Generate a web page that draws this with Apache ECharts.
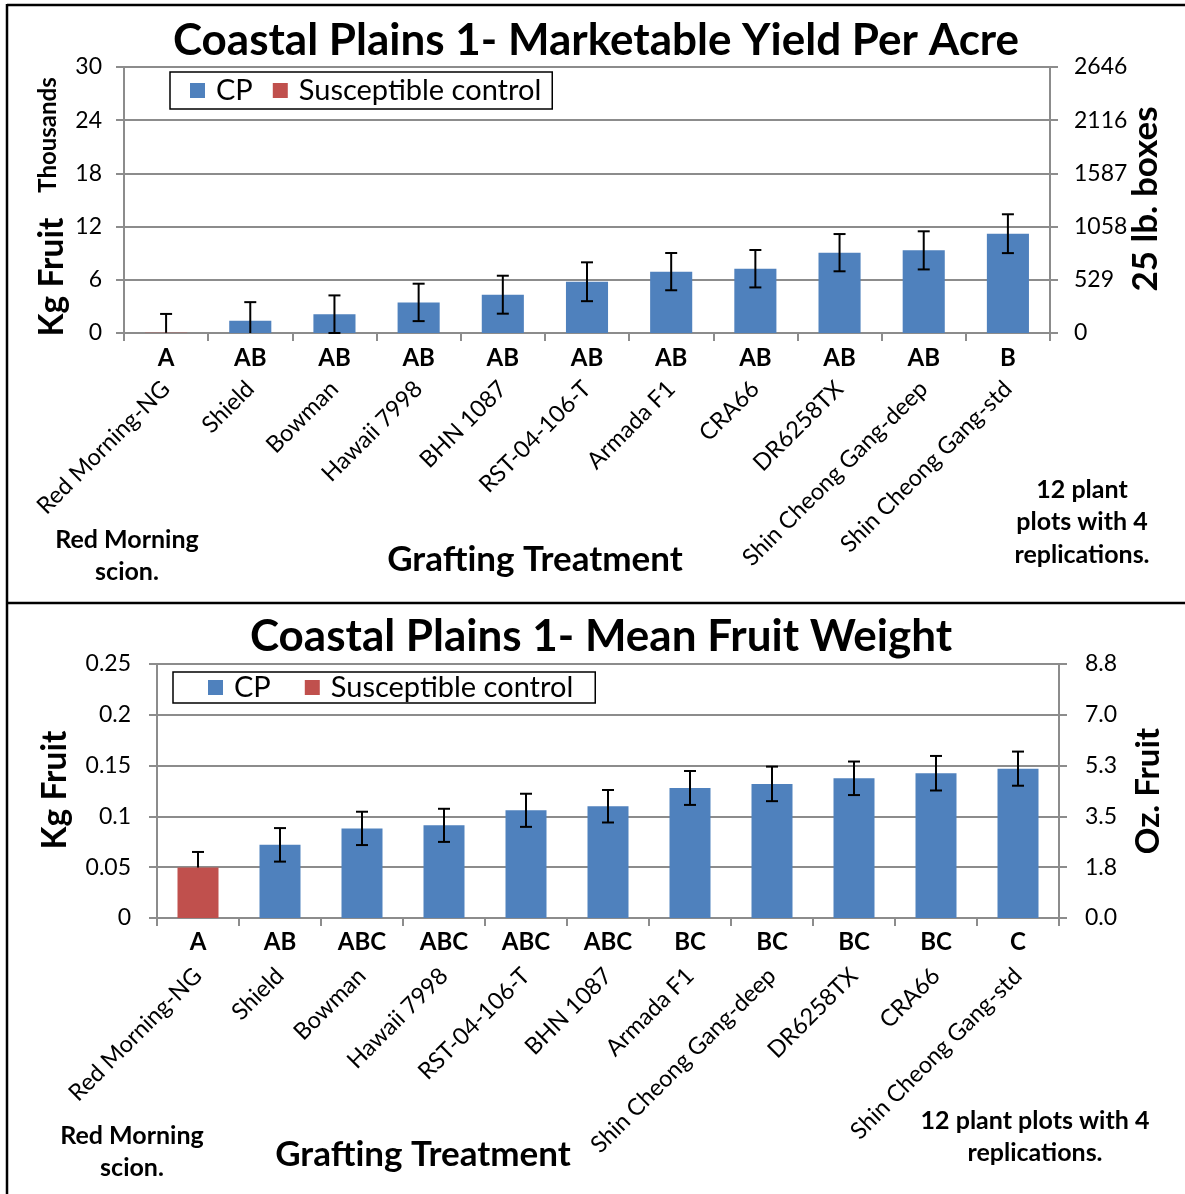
<!DOCTYPE html>
<html>
<head>
<meta charset="utf-8">
<script src="https://cdn.jsdelivr.net/npm/echarts@6/dist/echarts.min.js"></script>
<style>
  html, body { margin: 0; padding: 0; background: #fff; }
  #main { width: 1185px; height: 1194px; }
</style>
</head>
<body>
<div id="main"></div>
<script>
  // top chart: marketable yield (thousands kg per acre)
  var yieldNames = ['Red Morning-NG', 'Shield', 'Bowman', 'Hawaii 7998', 'BHN 1087', 'RST-04-106-T',
    'Armada F1', 'CRA66', 'DR6258TX', 'Shin Cheong Gang-deep', 'Shin Cheong Gang-std'];
  var yieldLetters = ['A', 'AB', 'AB', 'AB', 'AB', 'AB', 'AB', 'AB', 'AB', 'AB', 'B'];
  var yieldMeans = [0.03, 1.38, 2.12, 3.45, 4.32, 5.78, 6.92, 7.25, 9.06, 9.32, 11.2];
  var yieldErr = [2.12, 2.1, 2.12, 2.11, 2.14, 2.19, 2.1, 2.11, 2.1, 2.15, 2.19];
  var yieldBoxLabels = ['0', '529', '1058', '1587', '2116', '2646'];

  // bottom chart: mean fruit weight (kg)
  var weightNames = ['Red Morning-NG', 'Shield', 'Bowman', 'Hawaii 7998', 'RST-04-106-T', 'BHN 1087',
    'Armada F1', 'Shin Cheong Gang-deep', 'DR6258TX', 'CRA66', 'Shin Cheong Gang-std'];
  var weightLetters = ['A', 'AB', 'ABC', 'ABC', 'ABC', 'ABC', 'BC', 'BC', 'BC', 'BC', 'C'];
  var weightMeans = [0.0497, 0.072, 0.0882, 0.0912, 0.106, 0.110, 0.128, 0.132, 0.1375, 0.1425, 0.147];
  var weightErr = [0.0153, 0.0165, 0.0164, 0.0163, 0.0163, 0.016, 0.0167, 0.017, 0.0165, 0.017, 0.0168];
  var weightOzLabels = ['0.0', '1.8', '3.5', '5.3', '7.0', '8.8'];

  var controlName = 'Red Morning-NG';
  var BLUE = '#4F81BD';
  var RED = '#C0504D';
  var FONT = 'Lato, "Open Sans", sans-serif';
  var GRID_GRAY = '#8c8c8c';

  // 对照组放在红色系列，其它处理放在蓝色系列
  function pick(names, means, isControl) {
    return means.map(function (v, i) {
      return (names[i] === controlName) === isControl ? v : '-';
    });
  }

  function errData(means, errs) {
    return means.map(function (v, i) { return [i, v, errs[i]]; });
  }

  // error bar drawn as I-beam, lower part clipped at 0
  function renderErr(params, api) {
    var i = api.value(0), v = api.value(1), e = api.value(2);
    var hiV = v + e, loV = Math.max(0, v - e);
    var hi = api.coord([i, hiV]);
    var lo = api.coord([i, loV]);
    var w = 6;
    var style = { stroke: '#000', lineWidth: 2 };
    var children = [
      { type: 'line', shape: { x1: hi[0], y1: hi[1], x2: lo[0], y2: lo[1] }, style: style },
      { type: 'line', shape: { x1: hi[0] - w, y1: hi[1], x2: hi[0] + w, y2: hi[1] }, style: style }
    ];
    if (v - e >= 0) {
      children.push({ type: 'line', shape: { x1: lo[0] - w, y1: lo[1], x2: lo[0] + w, y2: lo[1] }, style: style });
    }
    return { type: 'group', children: children };
  }

  function letterAxis(grid, data, margin) {
    return {
      type: 'category', gridIndex: grid, data: data, position: 'bottom',
      axisLine: { lineStyle: { color: GRID_GRAY, width: 2 } },
      axisTick: { show: true, length: 8, lineStyle: { color: GRID_GRAY, width: 2 } },
      axisLabel: { fontFamily: FONT, fontSize: 24, fontWeight: 'bold', color: '#000', margin: margin, interval: 0 }
    };
  }
  function nameAxis(grid, data, margin) {
    return {
      type: 'category', gridIndex: grid, data: data, position: 'bottom', offset: 0,
      axisLine: { show: false }, axisTick: { show: false },
      axisLabel: { fontFamily: FONT, fontSize: 23.5, color: '#000', rotate: 45, margin: margin, interval: 0 }
    };
  }
  function leftAxis(grid, max, interval, margin) {
    return {
      type: 'value', gridIndex: grid, position: 'left', min: 0, max: max, interval: interval,
      axisLine: { show: true, lineStyle: { color: GRID_GRAY, width: 2 } },
      axisTick: { show: true, length: 8, lineStyle: { color: GRID_GRAY, width: 2 } },
      splitLine: { show: true, lineStyle: { color: GRID_GRAY, width: 2 } },
      axisLabel: { fontFamily: FONT, fontSize: 23, color: '#000', margin: margin }
    };
  }
  function rightAxis(grid, max, interval, labels, margin) {
    return {
      type: 'value', gridIndex: grid, position: 'right', min: 0, max: max, interval: interval,
      axisLine: { show: true, lineStyle: { color: GRID_GRAY, width: 2 } },
      axisTick: { show: true, length: 8, lineStyle: { color: GRID_GRAY, width: 2 } },
      splitLine: { show: false },
      axisLabel: {
        fontFamily: FONT, fontSize: 23, color: '#000', margin: margin,
        formatter: function (val) { return labels[Math.round(val / interval)]; }
      }
    };
  }

  function txt(x, y, text, size, rot) {
    return {
      type: 'text', x: x, y: y, rotation: rot || 0, z: 10,
      style: {
        text: text, fontFamily: FONT, fontSize: size, fontWeight: 'bold',
        fill: '#000', align: 'center', verticalAlign: 'middle', lineHeight: size * 1.3
      }
    };
  }
  function border(x1, y1, x2, y2) {
    return { type: 'line', shape: { x1: x1, y1: y1, x2: x2, y2: y2 }, style: { stroke: '#000', lineWidth: 2.5 }, z: 10 };
  }

  var myChart = echarts.init(document.getElementById('main'));

  var legendBase = {
    data: ['CP', 'Susceptible control'],
    orient: 'horizontal',
    borderColor: '#000', borderWidth: 1.5,
    itemWidth: 15, itemHeight: 15, icon: 'rect',
    textStyle: { fontFamily: FONT, fontSize: 29, color: '#000', padding: [0, 0, 0, 6] },
    backgroundColor: '#fff'
  };

  var option = {
    animation: false,
    backgroundColor: '#fff',
    grid: [
      { left: 124, right: 135, top: 67, bottom: 861 },
      { left: 157, right: 126, top: 664, bottom: 276 }
    ],
    legend: [
      Object.assign({}, legendBase, { left: 170, top: 72, padding: [4, 11, 4, 20], itemGap: 20 }),
      Object.assign({}, legendBase, { left: 173, top: 672, padding: [1, 22, 1, 35], itemGap: 34 })
    ],
    xAxis: [
      letterAxis(0, yieldLetters, 13),
      nameAxis(0, yieldNames, 52),
      letterAxis(1, weightLetters, 12),
      nameAxis(1, weightNames, 54)
    ],
    yAxis: [
      leftAxis(0, 30, 6, 22),
      rightAxis(0, 30, 6, yieldBoxLabels, 24),
      leftAxis(1, 0.25, 0.05, 26),
      rightAxis(1, 0.25, 0.05, weightOzLabels, 26)
    ],
    series: [
      { name: 'CP', type: 'bar', xAxisIndex: 0, yAxisIndex: 0, data: pick(yieldNames, yieldMeans, false),
        barWidth: '50%', barGap: '-100%', itemStyle: { color: BLUE }, z: 2 },
      { name: 'Susceptible control', type: 'bar', xAxisIndex: 0, yAxisIndex: 0, data: pick(yieldNames, yieldMeans, true),
        barWidth: '50%', barGap: '-100%', itemStyle: { color: RED }, z: 4 },
      { type: 'custom', xAxisIndex: 0, yAxisIndex: 0, data: errData(yieldMeans, yieldErr),
        renderItem: renderErr, z: 3, silent: true },
      { name: 'CP', type: 'bar', xAxisIndex: 2, yAxisIndex: 2, data: pick(weightNames, weightMeans, false),
        barWidth: '50%', barGap: '-100%', itemStyle: { color: BLUE }, z: 2 },
      { name: 'Susceptible control', type: 'bar', xAxisIndex: 2, yAxisIndex: 2, data: pick(weightNames, weightMeans, true),
        barWidth: '50%', barGap: '-100%', itemStyle: { color: RED }, z: 4 },
      { type: 'custom', xAxisIndex: 2, yAxisIndex: 2, data: errData(weightMeans, weightErr),
        renderItem: renderErr, z: 3, silent: true }
    ],
    graphic: [
      border(7, 5, 1185, 5),
      border(7, 4, 7, 1194),
      border(7, 603, 1185, 603),
      // top chart texts
      txt(596, 41, 'Coastal Plains 1- Marketable Yield Per Acre', 44),
      txt(48, 135, 'Thousands', 24, Math.PI / 2),
      txt(52, 277, 'Kg Fruit', 33.5, Math.PI / 2),
      txt(1146, 199, '25 lb. boxes', 35, Math.PI / 2),
      txt(127, 556, 'Red Morning\nscion.', 25),
      txt(535, 560, 'Grafting Treatment', 35),
      txt(1082, 522, '12 plant\nplots with 4\nreplications.', 25),
      // bottom chart texts
      txt(601, 637, 'Coastal Plains 1- Mean Fruit Weight', 44),
      txt(55, 790, 'Kg Fruit', 33.5, Math.PI / 2),
      txt(1148, 791, 'Oz. Fruit', 33, Math.PI / 2),
      txt(132, 1152, 'Red Morning\nscion.', 25),
      txt(423, 1155, 'Grafting Treatment', 35),
      txt(1035, 1137, '12 plant plots with 4\nreplications.', 25)
    ]
  };

  myChart.setOption(option);
</script>
</body>
</html>
